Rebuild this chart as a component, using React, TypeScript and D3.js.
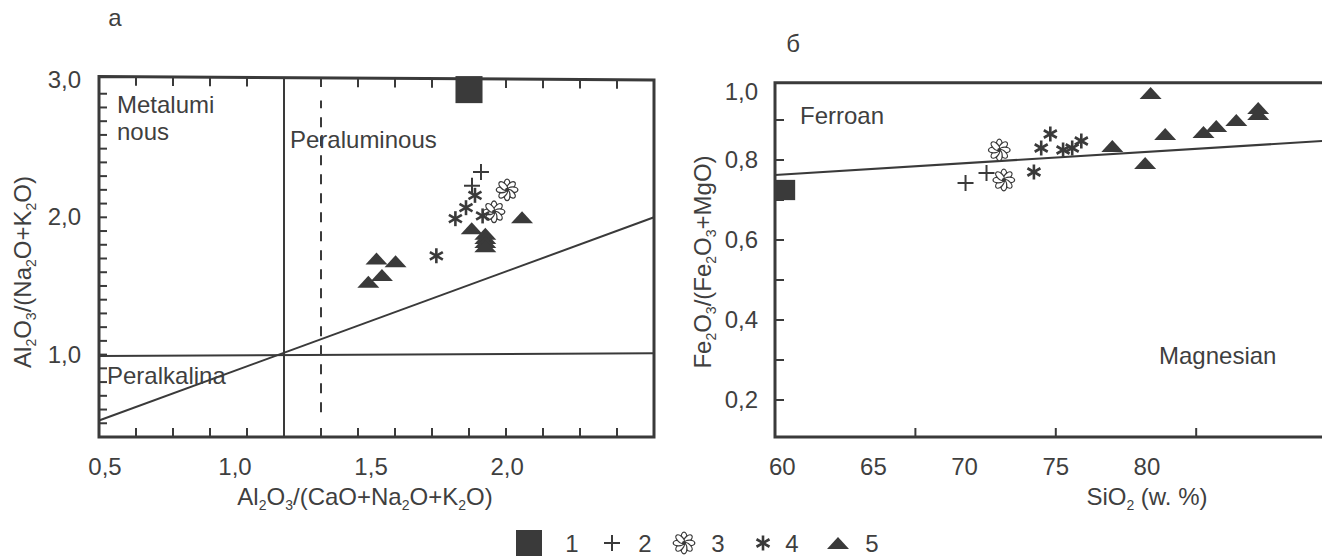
import React from 'react';
import * as d3 from 'd3';

// ---------- Panel а data ----------
const aSquare: [number, number][] = [[1.86, 2.93]];
const aPlus: [number, number][] = [[1.904, 2.33], [1.871, 2.23]];
const aFlower: [number, number][] = [[2.0, 2.2], [1.952, 2.04]];
const aAsterisk: [number, number][] = [[1.882, 2.16], [1.849, 2.07], [1.81, 1.99], [1.91, 2.01], [1.74, 1.72]];
const aTriangle: [number, number][] = [
  [1.87, 1.92], [1.92, 1.88], [1.92, 1.85], [1.92, 1.82], [1.92, 1.79],
  [2.055, 2.0], [1.52, 1.7], [1.59, 1.68], [1.54, 1.58], [1.49, 1.53],
];
const aLineH: [number, number][] = [[0.5, 0.99], [2.54, 1.01]];
const aLineDiag: [number, number][] = [[0.5, 0.52], [2.54, 2.0]];
const aLineV = 1.18;
const aLineDashed = 1.316;
const aDashedRange = [0.58, 2.85];
const aXTickLabels = ['0,5', '1,0', '1,5', '2,0'];
const aXTickValues = [0.5, 1.0, 1.5, 2.0];
const aYTickLabels = ['1,0', '2,0', '3,0'];
const aYTickValues = [1.0, 2.0, 3.0];
const aXMinor = [0.636, 0.772, 0.908, 1.044, 1.316, 1.452, 1.588, 1.724, 1.86, 1.996, 2.132, 2.268, 2.404];
const aYMinor = [0.5, 0.6, 0.7, 0.8, 0.9, 1.0, 1.1, 1.2, 1.3, 1.4, 1.5, 1.6, 1.7, 1.8, 1.9, 2.0, 2.1, 2.2, 2.3, 2.4, 2.5, 2.6, 2.7, 2.8, 2.9];

// ---------- Panel б data ----------
const bSquare: [number, number][] = [[60.15, 0.725]];
const bPlus: [number, number][] = [[70.05, 0.7425], [71.2, 0.7675]];
const bFlower: [number, number][] = [[71.9, 0.825], [72.15, 0.75]];
const bAsterisk: [number, number][] = [[73.8, 0.77], [74.2, 0.83], [74.7, 0.865], [75.4, 0.825], [75.9, 0.83], [76.4, 0.8475]];
const bTriangle: [number, number][] = [
  [78.1, 0.835], [80.2, 0.9675], [81.0, 0.865], [79.9, 0.7925], [83.1, 0.87],
  [83.8, 0.885], [84.9, 0.9], [86.1, 0.93], [86.1, 0.915],
];
const bLine: [number, number][] = [[59.6, 0.7625], [89.6, 0.8475]];
const bXTickLabels = ['60', '65', '70', '75', '80'];
const bXTickValues = [60, 65, 70, 75, 80];
const bYTickLabels = ['0,2', '0,4', '0,6', '0,8', '1,0'];
const bYTickValues = [0.2, 0.4, 0.6, 0.8, 1.0];
const bXMinor = [67.3, 75.0, 82.7];
const bYMinor = [0.2, 0.3, 0.4, 0.5, 0.6, 0.7, 0.8, 0.9];

// ---------- Legend ----------
const legendLabels = ['1', '2', '3', '4', '5'];
const legendKinds = ['square', 'plus', 'flower', 'asterisk', 'triangle'];

const INK = '#3a3a3a';
const TEXT = '#3f3f3f';
const FONT = '"Liberation Sans", Arial, Helvetica, sans-serif';
const FS = 24;
const SUB = 14;

const xA = d3.scaleLinear().domain([0.5, 2.54]).range([99, 654]);
const yA = d3.scaleLinear().domain([0.4, 3.0]).range([437, 80]);
const xB = d3.scaleLinear().domain([59.6, 89.6]).range([775, 1322]);
const yB = d3.scaleLinear().domain([0.1075, 1.0]).range([437, 80]);

function Marker({ kind, x, y, size = 1 }: { kind: string; x: number; y: number; size?: number }) {
  if (kind === 'square') {
    const s = 26 * size;
    return <rect x={x - s / 2} y={y - s / 2} width={s} height={s} fill={INK} />;
  }
  if (kind === 'plus') {
    const h = 8;
    return (
      <g stroke={INK} strokeWidth={2}>
        <line x1={x - h} y1={y} x2={x + h} y2={y} />
        <line x1={x} y1={y - h} x2={x} y2={y + h} />
      </g>
    );
  }
  if (kind === 'flower') {
    const petals = d3.range(8);
    return (
      <g>
        {petals.map((i) => (
          <ellipse
            key={i}
            cx={x}
            cy={y - 5.5}
            rx={2.9}
            ry={5.3}
            fill="white"
            stroke={INK}
            strokeWidth={1.3}
            transform={`rotate(${i * 45} ${x} ${y})`}
          />
        ))}
        <circle cx={x} cy={y} r={2} fill={INK} />
      </g>
    );
  }
  if (kind === 'asterisk') {
    const h = 7.5;
    const angles = [90, 30, 150];
    return (
      <g stroke={INK} strokeWidth={2.6} strokeLinecap="butt">
        {angles.map((a) => {
          const r = (a * Math.PI) / 180;
          return <line key={a} x1={x - h * Math.cos(r)} y1={y - h * Math.sin(r)} x2={x + h * Math.cos(r)} y2={y + h * Math.sin(r)} />;
        })}
      </g>
    );
  }
  const w = 22;
  const ht = 12;
  const p = d3.path();
  p.moveTo(x - w / 2, y + ht / 2);
  p.lineTo(x + w / 2, y + ht / 2);
  p.lineTo(x, y - ht / 2);
  p.closePath();
  return <path d={p.toString()} fill={INK} />;
}

const line = d3.line();

export default function App() {
  const textStyle = { fontFamily: FONT, fontSize: FS, fill: TEXT } as const;
  const aTopL = yA(3.025);
  const aTopR = yA(3.0);
  const bTop = yB(0.993);
  const seriesA: [string, [number, number][]][] = [
    ['square', aSquare], ['plus', aPlus], ['flower', aFlower], ['asterisk', aAsterisk], ['triangle', aTriangle],
  ];
  const seriesB: [string, [number, number][]][] = [
    ['square', bSquare], ['plus', bPlus], ['flower', bFlower], ['asterisk', bAsterisk], ['triangle', bTriangle],
  ];
  const legendX = [529, 612, 684, 763, 838];
  const legendTextX = [572, 645, 718, 792, 872];
  const legendY = 543;
  const topAt = (px: number) => aTopL + ((px - 99) / (654 - 99)) * (aTopR - aTopL);

  return (
    <svg width={1322} height={556} style={{ position: 'absolute', left: 0, top: 0, background: 'white' }}>
      <rect width={1322} height={556} fill="white" />
      {/* ---------------- Panel а ---------------- */}
      <text x={115} y={26} {...textStyle} textAnchor="middle">а</text>
      <g stroke={INK} strokeWidth={2}>
        {aXMinor.map((v) => (
          <g key={'ax' + v}>
            <line x1={xA(v)} y1={437} x2={xA(v)} y2={428} />
            <line x1={xA(v)} y1={topAt(xA(v))} x2={xA(v)} y2={topAt(xA(v)) + 9} />
          </g>
        ))}
        {aYMinor.map((v) => (
          <line key={'ay' + v} x1={99} y1={yA(v)} x2={107} y2={yA(v)} />
        ))}
      </g>
      <g stroke={INK} strokeWidth={2} fill="none">
        <path d={line(aLineH.map(([a, b]) => [xA(a), yA(b)]) as any) as string} />
        <path d={line(aLineDiag.map(([a, b]) => [xA(a), yA(b)]) as any) as string} />
        <line x1={xA(aLineV)} y1={437} x2={xA(aLineV)} y2={topAt(xA(aLineV))} />
        <line x1={xA(aLineDashed)} y1={yA(aDashedRange[0])} x2={xA(aLineDashed)} y2={yA(aDashedRange[1])} strokeDasharray="10,9" />
      </g>
      <path d={`M99,${aTopL} L654,${aTopR} L654,437 L99,437 Z`} fill="none" stroke={INK} strokeWidth={3} />
      <text x={117} y={113} {...textStyle}>Metalumi</text>
      <text x={117} y={140} {...textStyle}>nous</text>
      <text x={290} y={148} {...textStyle}>Peraluminous</text>
      <text x={107} y={384} {...textStyle}>Peralkalina</text>
      {seriesA.map(([kind, pts]) =>
        pts.map(([a, b], i) => <Marker key={kind + i} kind={kind} x={xA(a)} y={yA(b)} size={kind === 'square' ? 1.04 : 1} />)
      )}
      {aXTickValues.map((v, i) => (
        <text key={'axl' + v} x={xA(v) + (i === 0 ? 6 : 0)} y={475} {...textStyle} textAnchor="middle">{aXTickLabels[i]}</text>
      ))}
      {aYTickValues.map((v, i) => (
        <text key={'ayl' + v} x={81} y={yA(v) + 8} {...textStyle} textAnchor="end">{aYTickLabels[i]}</text>
      ))}
      <text x={365} y={505} {...textStyle} textAnchor="middle">
        Al<tspan fontSize={SUB} dy={5}>2</tspan><tspan dy={-5}>O</tspan><tspan fontSize={SUB} dy={5}>3</tspan><tspan dy={-5}>/(CaO+Na</tspan><tspan fontSize={SUB} dy={5}>2</tspan><tspan dy={-5}>O+K</tspan><tspan fontSize={SUB} dy={5}>2</tspan><tspan dy={-5}>O)</tspan>
      </text>
      <text transform="translate(31,272) rotate(-90)" {...textStyle} textAnchor="middle">
        Al<tspan fontSize={SUB} dy={5}>2</tspan><tspan dy={-5}>O</tspan><tspan fontSize={SUB} dy={5}>3</tspan><tspan dy={-5}>/(Na</tspan><tspan fontSize={SUB} dy={5}>2</tspan><tspan dy={-5}>O+K</tspan><tspan fontSize={SUB} dy={5}>2</tspan><tspan dy={-5}>O)</tspan>
      </text>

      {/* ---------------- Panel б ---------------- */}
      <text x={793} y={52} {...textStyle} textAnchor="middle">б</text>
      <g stroke={INK} strokeWidth={2}>
        {bYMinor.map((v) => (
          <line key={'by' + v} x1={775} y1={yB(v)} x2={784} y2={yB(v)} />
        ))}
        {bXMinor.map((v) => (
          <line key={'bx' + v} x1={xB(v)} y1={437} x2={xB(v)} y2={428} />
        ))}
      </g>
      <path d={line(bLine.map(([a, b]) => [xB(a), yB(b)]) as any) as string} stroke={INK} strokeWidth={2.2} fill="none" />
      <path d={`M1322,${bTop} L775,${bTop} L775,437 L1322,437`} stroke={INK} strokeWidth={3} fill="none" />
      <text x={800} y={124} {...textStyle}>Ferroan</text>
      <text x={1159} y={364} {...textStyle}>Magnesian</text>
      {seriesB.map(([kind, pts]) =>
        pts.map(([a, b], i) => <Marker key={'b' + kind + i} kind={kind} x={xB(a)} y={yB(b)} size={kind === 'square' ? 0.78 : 1} />)
      )}
      {bXTickValues.map((v, i) => (
        <text key={'bxl' + v} x={xB(v)} y={475} {...textStyle} textAnchor="middle">{bXTickLabels[i]}</text>
      ))}
      {bYTickValues.map((v, i) => (
        <text key={'byl' + v} x={758} y={yB(v) + (v === 1.0 ? 20 : 8)} {...textStyle} textAnchor="end">{bYTickLabels[i]}</text>
      ))}
      <text x={xB(80)} y={505} {...textStyle} textAnchor="middle">
        SiO<tspan fontSize={SUB} dy={5}>2</tspan><tspan dy={-5}> (w. %)</tspan>
      </text>
      <text transform="translate(711,262) rotate(-90)" {...textStyle} textAnchor="middle">
        Fe<tspan fontSize={SUB} dy={5}>2</tspan><tspan dy={-5}>O</tspan><tspan fontSize={SUB} dy={5}>3</tspan><tspan dy={-5}>/(Fe</tspan><tspan fontSize={SUB} dy={5}>2</tspan><tspan dy={-5}>O</tspan><tspan fontSize={SUB} dy={5}>3</tspan><tspan dy={-5}>+MgO)</tspan>
      </text>

      {/* ---------------- Legend ---------------- */}
      {legendKinds.map((k, i) => (
        <g key={'leg' + k}>
          <Marker kind={k} x={legendX[i]} y={legendY} size={1} />
          <text x={legendTextX[i]} y={legendY + 9} {...textStyle} textAnchor="middle">{legendLabels[i]}</text>
        </g>
      ))}
    </svg>
  );
}
